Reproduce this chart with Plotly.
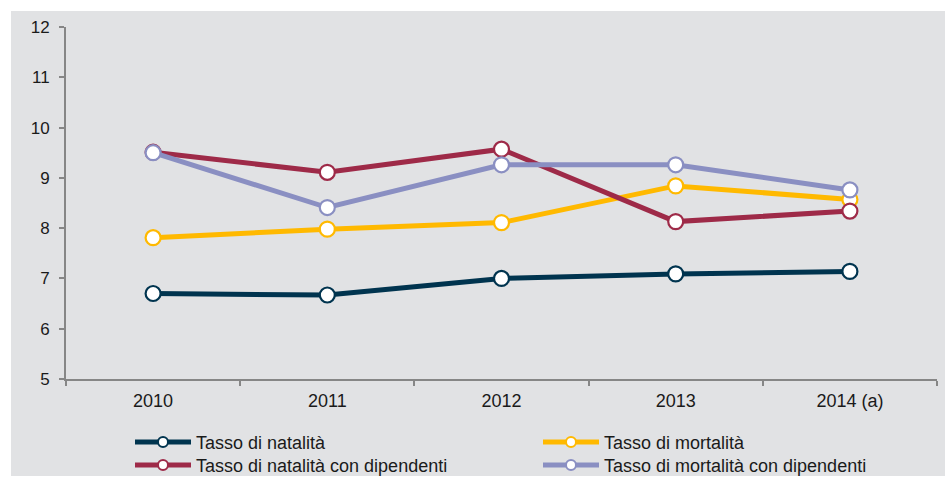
import plotly.graph_objects as go

years = ["2010", "2011", "2012", "2013", "2014 (a)"]

natalita = [6.70, 6.67, 7.00, 7.09, 7.14]
mortalita = [7.81, 7.98, 8.11, 8.84, 8.57]
natalita_dip = [9.51, 9.11, 9.57, 8.13, 8.34]
mortalita_dip = [9.50, 8.41, 9.26, 9.26, 8.76]

series_names = [
    "Tasso di natalità",
    "Tasso di mortalità",
    "Tasso di natalità con dipendenti",
    "Tasso di mortalità con dipendenti",
]
series_values = [natalita, mortalita, natalita_dip, mortalita_dip]
series_colors = ["#00344f", "#ffb900", "#9e2a48", "#8a8fc2"]

BG = "#e1e2e4"
AXIS = "#868686"
TEXT = "#1a1a1a"
FONT = "Liberation Sans, Arial, sans-serif"

W, H = 945, 482
ml, mr, mt, mb = 66, 8, 27, 103
pw, ph = W - ml - mr, H - mt - mb


def px_x(x):
    return (x - ml) / pw


def px_y(y):
    return (H - mb - y) / ph


fig = go.Figure()
for name, vals, color in zip(series_names, series_values, series_colors):
    fig.add_trace(go.Scatter(
        x=years, y=vals, name=name, mode="lines+markers",
        line=dict(color=color, width=5),
        marker=dict(symbol="circle", size=15, color="white",
                    line=dict(color=color, width=2.2)),
        showlegend=False,
    ))

shapes = [
    # gray panel behind the whole chart
    dict(type="rect", xref="paper", yref="paper", layer="below",
         x0=px_x(11), x1=px_x(W), y0=px_y(476), y1=px_y(11),
         fillcolor=BG, line=dict(width=0)),
]
annotations = []

# two-column legend below the axis
legend_cols = [135, 543]
legend_rows = [442, 465]
for i, (name, color) in enumerate(zip(series_names, series_colors)):
    lx = legend_cols[i % 2]
    ly = legend_rows[i // 2]
    shapes.append(dict(type="line", xref="paper", yref="paper",
                       x0=px_x(lx), x1=px_x(lx + 56), y0=px_y(ly), y1=px_y(ly),
                       line=dict(color=color, width=5)))
    shapes.append(dict(type="circle", xref="paper", yref="paper",
                       xsizemode="pixel", ysizemode="pixel",
                       xanchor=px_x(lx + 28), yanchor=px_y(ly),
                       x0=-5, x1=5, y0=-5, y1=5,
                       fillcolor="white", line=dict(color=color, width=2)))
    annotations.append(dict(text=name, xref="paper", yref="paper",
                            x=px_x(lx + 59), y=px_y(ly + 1),
                            xanchor="left", yanchor="middle", showarrow=False,
                            font=dict(family=FONT, size=18, color=TEXT)))

fig.update_layout(
    width=W, height=H,
    margin=dict(l=ml, r=mr, t=mt, b=mb, autoexpand=False),
    paper_bgcolor="white", plot_bgcolor=BG,
    font=dict(family=FONT, size=17, color=TEXT),
    showlegend=False,
    shapes=shapes,
    annotations=annotations,
)

fig.update_xaxes(
    type="category", range=[-0.5, 4.5],
    showline=True, linecolor=AXIS, linewidth=2,
    ticks="outside", tickson="boundaries", ticklen=5, tickcolor=AXIS, tickwidth=1.5,
    showgrid=False, zeroline=False, ticklabelstandoff=4,
    tickfont=dict(family=FONT, size=18, color=TEXT),
)
fig.update_yaxes(
    range=[5, 12], dtick=1, tick0=5,
    showline=True, linecolor=AXIS, linewidth=2,
    ticks="outside", ticklen=5, tickcolor=AXIS, tickwidth=1.5,
    showgrid=False, zeroline=False, ticklabelstandoff=6,
    tickfont=dict(family=FONT, size=17, color=TEXT),
)

fig.write_html("out.html")
